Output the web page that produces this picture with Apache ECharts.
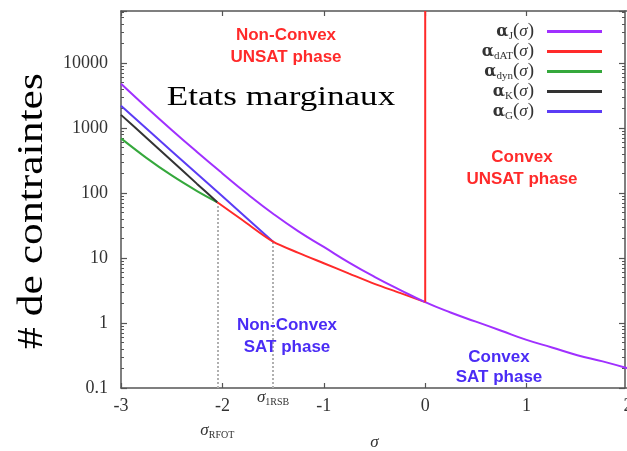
<!DOCTYPE html>
<html><head><meta charset="utf-8">
<script src="https://cdn.jsdelivr.net/npm/echarts@6/dist/echarts.min.js"></script>
<style>html,body{margin:0;padding:0;background:#fff}#c{width:627px;height:451px}</style>
</head><body><div id="c"></div>
<script>
// ---- data ----
const sigmaJ = [-3, -2.75, -2.5, -2.25, -2, -1.75, -1.5, -1.25, -1, -0.75, -0.5, -0.25, 0, 0.25, 0.5, 0.75, 1, 1.25, 1.5, 1.75, 2];
const alphaJ = [4790, 2090, 933, 427, 200, 95.5, 47.9, 25.7, 14.8, 8.5, 5.13, 3.24, 2.09, 1.45, 1.05, 0.76, 0.55, 0.42, 0.32, 0.257, 0.2];
const sigmaDAT = [-2.05, -1.8, -1.5, -1.25, -1, -0.75, -0.5, -0.25, 0];
const alphaDAT = [72, 38, 17.8, 12, 8.3, 5.75, 4.0, 2.9, 2.09];
const sigmaDATwall = [0, 0];
const alphaDATwall = [2.09, 63000];
const sigmaDyn = [-3, -2.75, -2.5, -2.25, -2.05];
const alphaDyn = [692, 347, 186, 107, 72];
const sigmaK = [-3, -2.75, -2.5, -2.25, -2.05];
const alphaK = [1590, 708, 313, 138, 72];
const sigmaG = [-3, -2.5, -2, -1.5];
const alphaG = [2200, 440, 89, 17.8];
const sigmaRFOT = -2.05, alphaRFOT = 72;
const sigma1RSB = -1.5, alpha1RSB = 17.8;
const yMin = 0.1, yMax = 63000;
const xMin = -3, xMax = 2;
const yTickLabels = ['0.1', '1', '10', '100', '1000', '10000'];
const legendNames = ['J', 'dAT', 'dyn', 'K', 'G'];

const minorTicks = [];
for (let e = -1; e <= 4; e++) for (let m = 2; m <= 9; m++) {
  const v = +(m * Math.pow(10, e)).toPrecision(3);
  if (v < yMax) minorTicks.push(v);
}
const pairs = (xs, ys) => xs.map((x, i) => [x, ys[i]]);

const AX = '#555', LAB = '#333';
const RED = '#ff2a2a', BLUE = '#4a2cf5';
const axisLine = { show: true, onZero: false, lineStyle: { color: AX, width: 1.5 } };
const noLine = { show: false, onZero: false };
const serif = 'Liberation Serif';

const chart = echarts.init(document.getElementById('c'), null, { renderer: 'canvas' });
const xBase = { type: 'value', min: xMin, max: xMax, interval: 1, splitLine: { show: false } };
const yBase = { type: 'log', min: yMin, max: yMax, splitLine: { show: false } };

const lineSeries = (name, xs, ys, color, z, smooth) => ({
  name, type: 'line', data: pairs(xs, ys), smooth: smooth, symbol: 'none', z,
  lineStyle: { color, width: 2 }, itemStyle: { color }, emphasis: { disabled: true }
});

const rfotLabel = {
  show: true, position: 'start', distance: 34,
  formatter: '{s|σ}{b|RFOT}',
  rich: {
    s: { fontFamily: serif, fontStyle: 'italic', fontSize: 17, color: LAB, lineHeight: 18 },
    b: { fontFamily: serif, fontSize: 10, color: LAB, verticalAlign: 'bottom', lineHeight: 12 }
  }
};
const rsbLabel = JSON.parse(JSON.stringify(rfotLabel));
rsbLabel.formatter = '{s|σ}{b|1RSB}';
rsbLabel.distance = 1;

const option = {
  backgroundColor: '#fff',
  animation: false,
  grid: { left: 121, right: -1, top: 11, bottom: 63, containLabel: false, outerBoundsMode: 'none' },
  xAxis: [
    Object.assign({}, xBase, {
      position: 'bottom', axisLine,
      axisTick: { inside: true, length: 5, lineStyle: { color: AX, width: 1.2 } },
      axisLabel: { color: LAB, fontFamily: serif, fontSize: 18, margin: 9 },
      name: 'σ', nameLocation: 'middle', nameGap: 46,
      nameTextStyle: { fontFamily: serif, fontStyle: 'italic', fontSize: 17, color: LAB }
    }),
    Object.assign({}, xBase, {
      position: 'top', axisLine,
      axisTick: { inside: true, length: 5, lineStyle: { color: AX, width: 1.2 } },
      axisLabel: { show: false }
    })
  ],
  yAxis: [
    Object.assign({}, yBase, {
      position: 'left', axisLine,
      axisTick: { inside: true, length: 6, lineStyle: { color: AX, width: 1.2 } },
      axisLabel: {
        color: LAB, fontFamily: serif, fontSize: 18, margin: 13,
        formatter: v => {
          const l = Math.log10(v), r = Math.round(l);
          return Math.abs(l - r) < 1e-6 ? yTickLabels[r + 1] : '';
        }
      }
    }),
    Object.assign({}, yBase, {
      position: 'right', offset: -3, axisLine,
      axisTick: { inside: true, length: 6, lineStyle: { color: AX, width: 1.2 } },
      axisLabel: { show: false }
    }),
    Object.assign({}, yBase, {
      position: 'left', axisLine: noLine,
      axisTick: { inside: true, length: 3, customValues: minorTicks, lineStyle: { color: AX, width: 1 } },
      axisLabel: { show: false }
    }),
    Object.assign({}, yBase, {
      position: 'right', offset: -3, axisLine: noLine,
      axisTick: { inside: true, length: 3, customValues: minorTicks, lineStyle: { color: AX, width: 1 } },
      axisLabel: { show: false }
    })
  ],
  legend: {
    data: legendNames, orient: 'vertical', right: 20, top: 17, align: 'right',
    icon: 'rect', itemWidth: 55, itemHeight: 3, itemGap: 0.5,
    selectedMode: false,
    formatter: n => '{a|α}{s|' + n + '}{p|(}{g|σ}{p|)}',
    textStyle: {
      padding: [0, 8, 0, 0],
      rich: {
        a: { fontFamily: 'DejaVu Serif', fontWeight: 'bold', fontSize: 16, color: LAB, lineHeight: 20 },
        s: { fontFamily: serif, fontSize: 11, color: LAB, verticalAlign: 'bottom', lineHeight: 14 },
        p: { fontFamily: serif, fontSize: 19, color: LAB, lineHeight: 20 },
        g: { fontFamily: serif, fontStyle: 'italic', fontSize: 17, color: LAB, lineHeight: 20 }
      }
    }
  },
  series: [
    Object.assign(lineSeries('dyn', sigmaDyn, alphaDyn, '#35a83c', 3, 0.3), {
      markLine: {
        symbol: 'none', silent: true, z: 1,
        lineStyle: { color: '#b0b0b0', type: 'dotted', width: 2 },
        label: rfotLabel,
        data: [[{ coord: [sigmaRFOT, yMin] }, { coord: [sigmaRFOT, alphaRFOT] }]]
      }
    }),
    lineSeries('K', sigmaK, alphaK, '#333333', 3, 0.3),
    Object.assign(lineSeries('G', sigmaG, alphaG, '#5b3cf5', 3, 0.3), {
      markLine: {
        symbol: 'none', silent: true, z: 1,
        lineStyle: { color: '#b0b0b0', type: 'dotted', width: 2 },
        label: rsbLabel,
        data: [[{ coord: [sigma1RSB, yMin] }, { coord: [sigma1RSB, alpha1RSB] }]]
      }
    }),
    lineSeries('dAT', sigmaDAT, alphaDAT, RED, 4, 0.3),
    lineSeries('J', sigmaJ, alphaJ, '#a030ff', 5, 0.5),
    lineSeries('dAT', sigmaDATwall, alphaDATwall, RED, 6, false)
  ],
  graphic: [
    { type: 'text', x: 286, y: 46, z: 10, style: { text: 'Non-Convex\nUNSAT phase', font: 'bold 17px "Liberation Sans"', fill: RED, align: 'center', verticalAlign: 'middle', lineHeight: 22 } },
    { type: 'text', x: 522, y: 168, z: 10, style: { text: 'Convex\nUNSAT phase', font: 'bold 17px "Liberation Sans"', fill: RED, align: 'center', verticalAlign: 'middle', lineHeight: 22 } },
    { type: 'text', x: 287, y: 336, z: 10, style: { text: 'Non-Convex\nSAT phase', font: 'bold 17px "Liberation Sans"', fill: BLUE, align: 'center', verticalAlign: 'middle', lineHeight: 22 } },
    { type: 'text', x: 499, y: 367, z: 10, style: { text: 'Convex\nSAT phase', font: 'bold 17px "Liberation Sans"', fill: BLUE, align: 'center', verticalAlign: 'middle', lineHeight: 20 } },
    { type: 'text', x: 281, y: 98, scaleX: 1.3, z: 10, style: { text: 'Etats marginaux', font: '27px "Liberation Serif"', fill: '#000', align: 'center', verticalAlign: 'middle' } },
    { type: 'text', x: 33, y: 211, rotation: Math.PI / 2, scaleX: 1.21, z: 10, style: { text: '# de contraintes', font: '36px "Liberation Serif"', fill: '#000', align: 'center', verticalAlign: 'middle' } }
  ]
};
chart.setOption(option);
</script></body></html>
